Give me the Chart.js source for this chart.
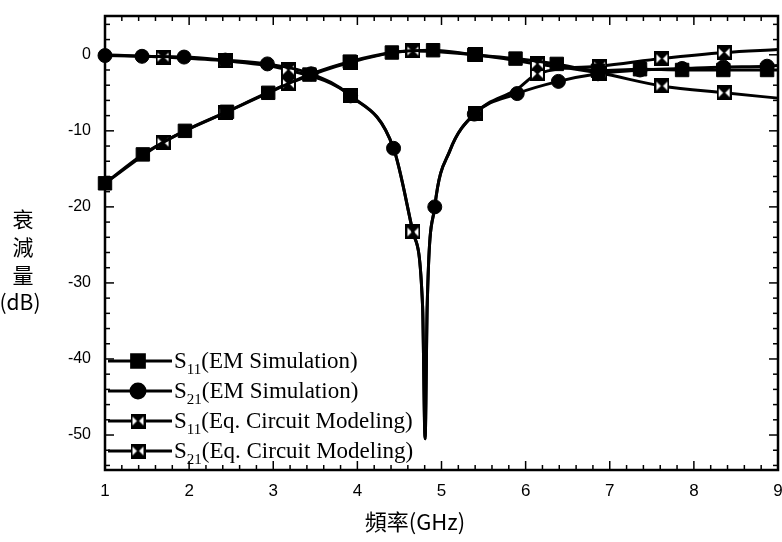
<!DOCTYPE html>
<html><head><meta charset="utf-8">
<script src="https://cdn.jsdelivr.net/npm/chart.js@4.4.1/dist/chart.umd.min.js"></script>
<style>html,body{margin:0;padding:0;background:#fff}#wrap{width:782px;height:542px;position:relative}</style>
</head><body><div id="wrap"><canvas id="c" width="782" height="542"></canvas></div>
<script>
// ---- data ----
const xTickLabels = [1, 2, 3, 4, 5, 6, 7, 8, 9];
const yTickLabels = [0, -10, -20, -30, -40, -50];
const xTitle = '頻率(GHz)';
const yTitleLines = ['衰', '減', '量', '(dB)'];
const seriesSubs = ['11', '21', '11', '21'];
const seriesTexts = ['(EM Simulation)', '(EM Simulation)', '(Eq. Circuit Modeling)', '(Eq. Circuit Modeling)'];

const s11EmFreq = [1.0, 1.45, 1.95, 2.45, 2.94, 3.43, 3.91, 4.41, 4.9, 5.39, 5.88, 6.37, 6.86, 7.36, 7.86, 8.35, 8.87, 9.0];
const s11EmDb   = [-16.9, -13.1, -10.0, -7.5, -5.0, -2.6, -0.9, 0.3, 0.6, 0.0, -0.5, -1.2, -2.1, -1.9, -2.0, -2.0, -2.0, -2.0];
const s11EmMarks = [1.0, 1.45, 1.95, 2.45, 2.94, 3.43, 3.91, 4.41, 4.9, 5.39, 5.88, 6.37, 6.86, 7.36, 7.86, 8.35, 8.87];

const s21EmFreq = [1.0, 1.44, 1.94, 2.43, 2.93, 3.45, 3.92, 4.43, 4.66, 4.775, 4.805, 4.83, 4.92, 5.1, 5.39, 5.9, 6.39, 6.86, 7.36, 7.86, 8.35, 8.87, 9.0];
const s21EmDb   = [-0.1, -0.2, -0.3, -0.7, -1.2, -2.5, -5.4, -12.3, -23.3, -33, -50.5, -33, -20.0, -12.6, -7.8, -5.1, -3.5, -2.5, -2.0, -1.8, -1.6, -1.5, -1.4];
const s21EmMarks = [1.0, 1.44, 1.94, 2.43, 2.93, 3.45, 3.92, 4.43, 4.92, 5.39, 5.9, 6.39, 6.86, 7.36, 7.86, 8.35, 8.87];

const s11EqFreq = [1.0, 1.69, 2.43, 3.18, 3.92, 4.66, 5.4, 6.14, 6.88, 7.62, 8.36, 9.0];
const s11EqDb   = [-16.9, -11.5, -7.6, -3.8, -1.0, 0.5, 0.0, -1.2, -2.4, -4.1, -5.0, -5.7];
const s11EqMarks = [1.69, 2.43, 3.18, 3.92, 4.66, 5.4, 6.14, 6.88, 7.62, 8.36];

const s21EqFreq = [1.0, 1.69, 2.43, 3.18, 3.92, 4.43, 4.66, 4.775, 4.805, 4.83, 4.92, 5.1, 5.4, 5.9, 6.14, 6.88, 7.62, 8.36, 9.0];
const s21EqDb   = [0.0, -0.3, -0.8, -2.0, -5.4, -12.3, -23.3, -33, -50.5, -33, -20.0, -12.6, -7.7, -4.5, -2.5, -1.5, -0.5, 0.3, 0.7];
const s21EqMarks = [1.69, 2.43, 3.18, 3.92, 4.66, 5.4, 6.14, 6.88, 7.62, 8.36];

// ---- marker image for equivalent-circuit series ----
function makeCrossBox(s) {
  const c = document.createElement('canvas'); c.width = s; c.height = s;
  const g = c.getContext('2d');
  g.fillStyle = '#fff'; g.fillRect(0, 0, s, s);
  g.fillStyle = '#000';
  g.beginPath(); g.moveTo(2, 2); g.lineTo(s - 2, 2); g.lineTo(s / 2, s / 2); g.closePath(); g.fill();
  g.beginPath(); g.moveTo(2, s - 2); g.lineTo(s - 2, s - 2); g.lineTo(s / 2, s / 2); g.closePath(); g.fill();
  g.strokeStyle = '#000'; g.lineWidth = 1.5;
  g.beginPath(); g.moveTo(1, 1); g.lineTo(s - 1, s - 1); g.moveTo(s - 1, 1); g.lineTo(1, s - 1); g.stroke();
  g.lineWidth = 2; g.strokeRect(1, 1, s - 2, s - 2);
  return c;
}
const crossBox = makeCrossBox(15);

function pts(f, d) { return f.map((x, i) => ({ x: x, y: d[i] })); }
function ds(label, f, d, marks, style, r) {
  return {
    label: label, data: pts(f, d),
    borderColor: '#000', backgroundColor: '#000', borderWidth: 3,
    pointStyle: style, pointBorderColor: '#000', pointBackgroundColor: '#000', pointBorderWidth: 1,
    pointRadius: c => (c.raw && marks.includes(c.raw.x)) ? r : 0,
    pointHoverRadius: 0,
    cubicInterpolationMode: 'monotone', clip: false
  };
}
const datasets = [
  ds('S11 EM', s11EmFreq, s11EmDb, s11EmMarks, 'rect', 9.5),
  ds('S21 EM', s21EmFreq, s21EmDb, s21EmMarks, 'circle', 7),
  ds('S11 Eq', s11EqFreq, s11EqDb, s11EqMarks, crossBox, 7),
  ds('S21 Eq', s21EqFreq, s21EqDb, s21EqMarks, crossBox, 7)
];

const decor = {
  id: 'decor',
  afterDraw(chart) {
    const { ctx, chartArea: a, scales: { x, y } } = chart;
    ctx.save();
    ctx.strokeStyle = '#000';
    function ln(x1, y1, x2, y2) { ctx.beginPath(); ctx.moveTo(x1, y1); ctx.lineTo(x2, y2); ctx.stroke(); }
    ctx.lineWidth = 1.5;
    for (let i = 0; i <= 40; i++) {
      const v = 1 + i * 0.2, px = x.getPixelForValue(v), L = (i % 5 === 0) ? 9 : 5;
      ln(px, a.bottom, px, a.bottom - L); ln(px, a.top, px, a.top + L);
    }
    for (let v = -54; v <= 4; v += 2) {
      const py = y.getPixelForValue(v), L = (v % 10 === 0) ? 9 : 5;
      ln(a.left, py, a.left + L, py); ln(a.right, py, a.right - L, py);
    }
    ctx.lineWidth = 2.5;
    ctx.strokeRect(a.left, a.top, a.right - a.left, a.bottom - a.top);

    // axis titles
    ctx.fillStyle = '#000';
    ctx.textAlign = 'center'; ctx.textBaseline = 'middle';
    ctx.font = '22px "Noto Sans CJK TC"';
    ctx.fillText(xTitle, 415, 522);
    ctx.font = '21px "Noto Sans CJK TC"';
    const yy = [219, 247, 275, 302];
    yTitleLines.forEach((t, i) => ctx.fillText(t, i < 3 ? 23 : 20, yy[i]));

    // legend
    const rows = [361, 391, 421, 451];
    datasets.forEach((d, i) => {
      const ry = rows[i];
      ctx.lineWidth = 3; ln(108, ry, 172, ry);
      Chart.helpers.drawPoint(ctx, { pointStyle: d.pointStyle, radius: i === 0 ? 9 : 7, rotation: 0, borderWidth: 1 }, 138, ry);
      if (i === 0 || i === 1) { ctx.fill(); }
      ctx.textAlign = 'left'; ctx.textBaseline = 'alphabetic';
      ctx.font = '23px "Liberation Serif"';
      let tx = 174;
      ctx.fillText('S', tx, ry + 7); tx += ctx.measureText('S').width;
      ctx.font = '15px "Liberation Serif"';
      ctx.fillText(seriesSubs[i], tx, ry + 13); tx += ctx.measureText(seriesSubs[i]).width;
      ctx.font = '23px "Liberation Serif"';
      ctx.fillText(seriesTexts[i], tx, ry + 7);
    });
    ctx.restore();
  }
};

new Chart(document.getElementById('c'), {
  type: 'line',
  data: { datasets: datasets },
  options: {
    responsive: false, animation: false, events: [],
    layout: { autoPadding: false, padding: { left: 0, right: 4, top: 16, bottom: 0 } },
    plugins: { legend: { display: false }, tooltip: { enabled: false } },
    scales: {
      x: {
        type: 'linear', min: 1, max: 9,
        grid: { display: false, drawTicks: false }, border: { display: false },
        afterBuildTicks: s => { s.ticks = xTickLabels.map(v => ({ value: v })); },
        afterFit: s => { s.height = 72; s.paddingLeft = 0; s.paddingRight = 0; },
        ticks: { padding: 11, color: '#000', maxRotation: 0, autoSkip: false, font: { family: '"Liberation Sans", Arial', size: 17 } }
      },
      y: {
        type: 'linear', min: -54.6, max: 5.1,
        grid: { display: false, drawTicks: false }, border: { display: false },
        afterBuildTicks: s => { s.ticks = yTickLabels.map(v => ({ value: v })); },
        afterFit: s => { s.width = 105; s.paddingTop = 0; s.paddingBottom = 0; },
        ticks: { padding: 14, color: '#000', autoSkip: false, font: { family: '"Liberation Sans", Arial', size: 16 } }
      }
    }
  },
  plugins: [decor]
});
</script>
</body></html>
